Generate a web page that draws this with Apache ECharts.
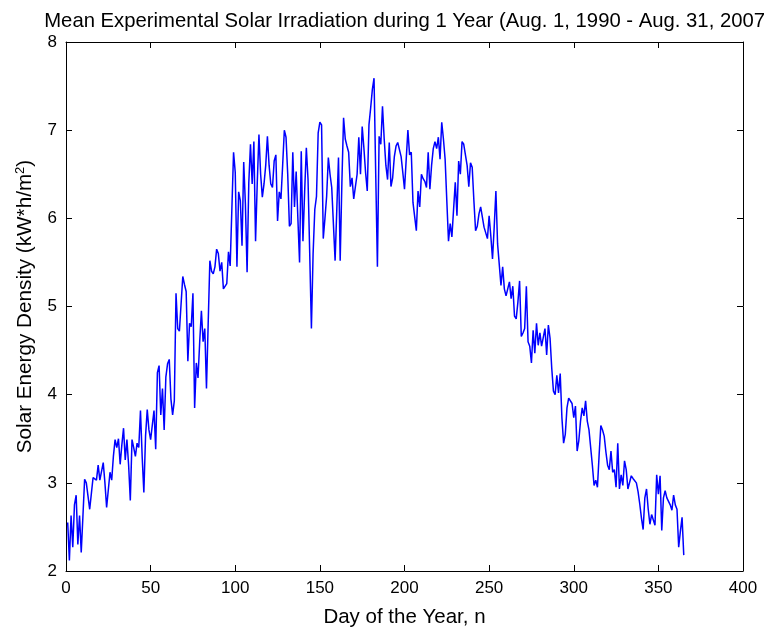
<!DOCTYPE html>
<html>
<head>
<meta charset="UTF-8">
<title>Solar Irradiation</title>
<script src="https://cdn.jsdelivr.net/npm/echarts@6/dist/echarts.min.js"></script>
<style>
  html, body { margin: 0; padding: 0; background: #fff; overflow: hidden; }
  #main { width: 764px; height: 633px; }
</style>
</head>
<body>
<div id="main"></div>
<script>
// mean daily solar energy density, day 1 .. 365 (kW*h/m^2)
var energy = [
  2.55, 2.12, 2.63, 2.27, 2.75, 2.86, 2.30, 2.63, 2.21, 2.62,
  3.04, 3.00, 2.85, 2.70, 2.88, 3.06, 3.08, 3.03, 3.20, 3.03,
  3.05, 3.23, 3.00, 2.72, 2.72, 3.12, 3.03, 3.30, 3.49, 3.40,
  3.50, 3.21, 3.43, 3.62, 3.26, 3.49, 3.20, 2.80, 3.49, 3.40,
  3.30, 3.45, 3.40, 3.82, 3.30, 2.89, 3.53, 3.83, 3.60, 3.49,
  3.48, 3.82, 3.38, 4.25, 4.33, 3.77, 4.07, 3.60, 4.20, 4.35,
  4.40, 3.95, 3.77, 3.93, 5.15, 4.75, 4.72, 4.70, 5.34, 5.25,
  5.17, 4.38, 4.81, 4.77, 5.15, 3.85, 4.36, 4.19, 4.60, 4.95,
  4.60, 4.75, 4.07, 4.80, 5.52, 5.40, 5.37, 5.45, 5.65, 5.60,
  5.40, 5.50, 5.20, 5.22, 5.26, 5.62, 5.46, 5.48, 6.75, 6.52,
  5.45, 6.30, 6.20, 5.69, 6.64, 6.16, 5.39, 6.40, 6.84, 6.39,
  6.87, 5.74, 6.40, 6.95, 6.50, 6.24, 6.39, 6.60, 6.93, 6.60,
  6.39, 6.35, 6.65, 6.72, 5.97, 6.30, 6.22, 6.60, 7.00, 6.92,
  6.50, 5.91, 5.94, 6.75, 6.13, 6.53, 6.00, 5.50, 6.76, 5.74,
  6.30, 6.80, 6.44, 5.60, 4.75, 5.60, 6.10, 6.25, 6.97, 7.09,
  7.06, 5.77, 6.00, 6.25, 6.69, 6.50, 6.35, 6.33, 5.52, 6.10,
  6.69, 5.52, 6.40, 7.14, 6.90, 6.82, 6.75, 6.36, 6.46, 6.22,
  6.20, 6.50, 6.92, 6.50, 7.04, 6.80, 6.52, 6.31, 7.06, 7.25,
  7.46, 7.59, 6.50, 5.45, 6.93, 6.84, 7.27, 6.90, 6.60, 6.44,
  6.86, 6.36, 6.46, 6.70, 6.82, 6.86, 6.84, 6.70, 6.52, 6.33,
  6.35, 7.00, 6.72, 6.75, 6.18, 6.20, 5.86, 6.31, 6.13, 6.50,
  6.45, 6.42, 6.35, 6.75, 6.33, 6.60, 6.79, 6.87, 6.79, 6.92,
  6.67, 7.09, 6.90, 6.67, 6.20, 5.74, 5.94, 5.79, 6.10, 6.41,
  6.03, 6.65, 6.50, 6.87, 6.84, 6.82, 6.60, 6.36, 6.63, 6.58,
  6.20, 5.86, 5.91, 6.05, 6.13, 6.13, 5.90, 5.88, 5.77, 6.03,
  5.80, 5.54, 5.90, 6.31, 5.71, 5.71, 5.24, 5.45, 5.20, 5.12,
  5.20, 5.28, 5.09, 5.23, 4.89, 4.86, 5.05, 5.29, 4.66, 4.70,
  4.75, 5.23, 4.60, 4.55, 4.36, 4.73, 4.47, 4.81, 4.56, 4.70,
  4.55, 4.65, 4.75, 4.45, 4.79, 4.64, 4.30, 4.04, 4.00, 4.22,
  4.02, 4.24, 3.74, 3.45, 3.55, 3.85, 3.96, 3.98, 3.90, 3.74,
  3.87, 3.36, 3.48, 3.70, 3.85, 3.76, 3.93, 3.70, 3.60, 3.62,
  3.20, 2.97, 3.03, 2.95, 3.32, 3.65, 3.60, 3.53, 3.35, 3.20,
  3.15, 3.36, 3.12, 3.15, 2.95, 3.45, 2.93, 3.09, 2.97, 3.25,
  3.15, 2.93, 2.91, 3.08, 3.05, 3.03, 3.00, 2.90, 2.76, 2.60,
  2.47, 2.83, 2.93, 2.70, 2.53, 2.64, 2.64, 2.52, 3.09, 2.87,
  3.08, 2.46, 2.83, 2.91, 2.83, 2.83, 2.75, 2.69, 2.86, 2.75,
  2.70, 2.27, 2.45, 2.61, 2.18
];
var firstDay = 1;

var xTicks = [0, 50, 100, 150, 200, 250, 300, 350, 400];
var yTicks = [2, 3, 4, 5, 6, 7, 8];

var chartTitle = 'Mean Experimental Solar Irradiation during 1 Year (Aug. 1, 1990 - Aug. 31, 2007)';
var xName = 'Day of the Year, n';
var yName = 'Solar Energy Density (kW*h/m{sup|2})';

var points = energy.map(function (v, i) { return [firstDay + i, v]; });

var font = 'Liberation Sans';
var ax = {
  type: 'value',
  axisLine: { show: true, onZero: false, lineStyle: { color: '#000', width: 1 } },
  axisTick: { show: true, inside: true, length: 6, lineStyle: { color: '#000', width: 1 } },
  splitLine: { show: false },
  axisLabel: { color: '#000', fontFamily: font, fontSize: 17 }
};

var myChart = echarts.init(document.getElementById('main'));
myChart.setOption({
  animation: false,
  backgroundColor: '#fff',
  title: {
    text: chartTitle,
    left: 403, top: 6, textAlign: 'center',
    textStyle: { fontFamily: font, fontSize: 20.3, fontWeight: 'normal', color: '#000' }
  },
  grid: { left: 66, top: 42, width: 677, height: 532 },
  xAxis: [
    echarts.util.merge({
      position: 'bottom', min: xTicks[0], max: xTicks[xTicks.length - 1], interval: 50,
      name: xName, nameLocation: 'middle', nameGap: 36,
      nameTextStyle: { fontFamily: font, fontSize: 20.5, color: '#000' },
      axisLabel: { margin: 9 }
    }, ax, false),
    echarts.util.merge({
      position: 'top', min: xTicks[0], max: xTicks[xTicks.length - 1], interval: 50,
      axisLabel: { show: false }
    }, ax, false)
  ],
  yAxis: [
    echarts.util.merge({
      position: 'left', min: yTicks[0], max: yTicks[yTicks.length - 1], interval: 1,
      name: yName, nameLocation: 'middle', nameGap: 29,
      nameTextStyle: {
        fontFamily: font, fontSize: 20.7, color: '#000',
        rich: { sup: { fontFamily: font, fontSize: 13, color: '#000', verticalAlign: 'top', padding: [0, 0, 10, 0] } }
      },
      axisLabel: { margin: 9 }
    }, ax, false),
    echarts.util.merge({
      position: 'right', min: yTicks[0], max: yTicks[yTicks.length - 1], interval: 1,
      axisLabel: { show: false }
    }, ax, false)
  ],
  series: [{
    type: 'line',
    data: points,
    showSymbol: false,
    lineStyle: { color: '#0000ff', width: 1.5 },
    itemStyle: { color: '#0000ff' }
  }]
});
</script>
</body>
</html>
